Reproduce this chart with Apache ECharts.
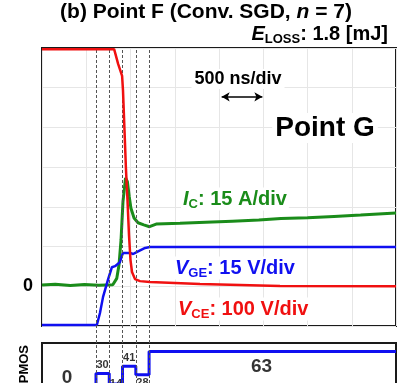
<!DOCTYPE html>
<html>
<head>
<meta charset="utf-8">
<script src="https://cdn.jsdelivr.net/npm/echarts@6/dist/echarts.min.js"></script>
<style>
html,body{margin:0;padding:0;background:#fff;}
#chart{width:401px;height:383px;}
</style>
</head>
<body>
<div id="chart"></div>
<script>
// ---- data (time in ns, 500 ns/div) ----
const IC_PER_DIV = 15;    // A/div
const VGE_PER_DIV = 15;   // V/div
const VCE_PER_DIV = 100;  // V/div

const icTime = [0, 150, 320, 480, 640, 800, 845, 870, 893, 915, 944, 965, 985, 1005, 1040, 1085, 1150, 1215, 1290, 1560, 1850, 2150, 2450, 2700, 3000, 3300, 3600, 3850, 4000];
const icAmps = [0.5, 0.8, 0.3, 0.7, 0.4, 0.6, 3.0, 8.0, 17.5, 32.0, 40.9, 39.5, 34.0, 29.5, 25.8, 24.0, 23.2, 22.5, 23.5, 23.8, 24.2, 24.6, 25.0, 25.6, 25.9, 26.4, 26.9, 27.4, 27.7];

const vgeTime = [0, 620, 655, 690, 745, 790, 825, 880, 915, 995, 1030, 1075, 1165, 1220, 4000];
const vgeVolts = [-14.6, -14.6, -10.1, -4.0, 2.4, 7.2, 7.6, 9.1, 12.6, 12.6, 12.2, 13.0, 14.5, 14.8, 14.8];

const vceTime = [0, 815, 860, 905, 915, 932, 949, 966, 983, 1000, 1017, 1051, 1107, 1220, 1785, 2690, 4000];
const vceVolts = [597, 597, 560, 530, 494, 394, 293, 217, 129, 66, 36, 18, 13, 11, 6, 1, 0];

// number of PMOS (step line)
const stepTimes = [0, 610, 760, 910, 1060, 1210, 4000];
const stepLevels = [0, 30, 14, 41, 28, 63, 63];
const switchTimes = [610, 760, 910, 1060, 1210];
const labelTimes = [283, 685, 835, 985, 1135, 2480];
const labelLevels = [0, 30, 14, 41, 28, 63];

// 500 ns scale arrow
const arrowSpan = [2030, 2490];
const arrowLevel = 4.77; // div

const FONT = '"Liberation Sans", Arial, sans-serif';

const chart = echarts.init(document.getElementById('chart'), null, {renderer: 'canvas'});

function pairs(t, v, scale) { return t.map((x, i) => [x, v[i] / scale]); }

const labelPos = ['top', 'top', 'inside', 'top', 'bottom', 'bottom'];
const labelBig = [true, false, false, false, false, true];

function richLabel(x, y, align, color, main, sub, rest, size) {
  return {
    type: 'text', x: x, y: y, z: 50,
    style: {
      text: '{i|' + main + '}{s|' + sub + '}{b|' + rest + '}',
      align: align, verticalAlign: 'middle',
      fill: color, backgroundColor: '#fff', padding: [0, 2],
      font: 'bold ' + size + 'px ' + FONT,
      rich: {
        i: {fontStyle: 'italic', fontWeight: 'bold', fontSize: size, fontFamily: FONT, fill: color},
        s: {fontWeight: 'bold', fontSize: Math.round(size * 0.65), fontFamily: FONT, fill: color, padding: [Math.round(size * 0.5), 0, 0, 0]},
        b: {fontWeight: 'bold', fontSize: size, fontFamily: FONT, fill: color}
      }
    }
  };
}

const option = {
  animation: false,
  backgroundColor: '#fff',
  grid: [
    {left: 42, right: 5, top: 48, height: 278, show: true, borderColor: '#1a1a1a', borderWidth: 2, backgroundColor: 'transparent', outerBoundsMode: 'none', containLabel: false},
    {left: 42, right: 5, top: 343, height: 57, show: true, borderColor: '#1a1a1a', borderWidth: 2, backgroundColor: 'transparent', outerBoundsMode: 'none', containLabel: false},
    {left: 42, right: 5, top: 48, height: 340, outerBoundsMode: 'none', containLabel: false}
  ],
  xAxis: [
    {gridIndex: 0, type: 'value', min: 0, max: 4000, interval: 500,
     axisLine: {show: false}, axisTick: {show: false}, axisLabel: {show: false},
     splitLine: {show: true, lineStyle: {color: '#e6e6e6', width: 1}}},
    {gridIndex: 1, type: 'value', min: 0, max: 4000, interval: 500,
     axisLine: {show: false}, axisTick: {show: false}, axisLabel: {show: false}, splitLine: {show: false}},
    {gridIndex: 2, type: 'value', min: 0, max: 4000, show: false}
  ],
  yAxis: [
    {gridIndex: 0, type: 'value', min: -1, max: 6, interval: 1,
     axisLine: {show: false}, axisTick: {show: false},
     axisLabel: {formatter: v => (v === 0 ? '0' : ''), color: '#000', fontSize: 18, fontWeight: 'bold', fontFamily: FONT, margin: 9},
     splitLine: {show: true, lineStyle: {color: '#e6e6e6', width: 1}}},
    {gridIndex: 1, type: 'value', min: -10, max: 76,
     axisLine: {show: false}, axisTick: {show: false}, axisLabel: {show: false}, splitLine: {show: false}},
    {gridIndex: 2, type: 'value', min: 0, max: 1, show: false}
  ],
  series: [
    {
      name: 'switch', type: 'line', xAxisIndex: 2, yAxisIndex: 2, z: 1,
      data: [[0, 0.5]], showSymbol: false, lineStyle: {opacity: 0}, silent: true,
      markLine: {silent: true, symbol: 'none', label: {show: false},
        lineStyle: {type: [3, 2], color: '#555', width: 1},
        data: switchTimes.map(t => ({xAxis: t}))}
    },
    {
      name: 'Ic', type: 'line', xAxisIndex: 0, yAxisIndex: 0, z: 3,
      data: pairs(icTime, icAmps, IC_PER_DIV), showSymbol: false,
      lineStyle: {color: '#1a8c1a', width: 3}
    },
    {
      name: 'Vge', type: 'line', xAxisIndex: 0, yAxisIndex: 0, z: 4,
      data: pairs(vgeTime, vgeVolts, VGE_PER_DIV), showSymbol: false,
      lineStyle: {color: '#1010f0', width: 2.5}
    },
    {
      name: 'Vce', type: 'line', xAxisIndex: 0, yAxisIndex: 0, z: 5,
      data: pairs(vceTime, vceVolts, VCE_PER_DIV), showSymbol: false,
      lineStyle: {color: '#f01010', width: 2.5}
    },
    {
      name: 'arrow', type: 'line', xAxisIndex: 0, yAxisIndex: 0, z: 6,
      data: [], silent: true,
      markLine: {silent: true, symbol: ['arrow', 'arrow'], symbolSize: [7, 8], label: {show: false},
        lineStyle: {type: 'solid', color: '#000', width: 1.5},
        data: [[{coord: [arrowSpan[0], arrowLevel]}, {coord: [arrowSpan[1], arrowLevel]}]]}
    },
    {
      name: 'PMOS', type: 'line', xAxisIndex: 1, yAxisIndex: 1, z: 3, step: 'end',
      data: stepTimes.map((t, i) => [t, stepLevels[i]]), showSymbol: false,
      lineStyle: {color: '#1010f0', width: 3}
    },
    {
      name: 'PMOS labels', type: 'scatter', xAxisIndex: 1, yAxisIndex: 1, z: 6, symbolSize: 0,
      data: labelTimes.map((t, i) => ({
        value: [t, labelLevels[i]],
        label: {show: true, position: labelPos[i], distance: labelBig[i] ? 6 : 3,
          fontSize: labelBig[i] ? 19 : 11, fontWeight: 'bold', fontFamily: FONT, color: '#000',
          formatter: p => String(p.value[1])}
      }))
    }
  ],
  graphic: [
    {type: 'text', x: 206, y: 12, z: 50, style: {
      text: '{b|(b) Point F (Conv. SGD, }{i|n}{b| = 7)}', align: 'center', verticalAlign: 'middle',
      font: 'bold 21px ' + FONT, fill: '#000',
      rich: {b: {fontWeight: 'bold', fontSize: 21, fontFamily: FONT, fill: '#000'},
             i: {fontWeight: 'bold', fontStyle: 'italic', fontSize: 21, fontFamily: FONT, fill: '#000'}}}},
    richLabel(390, 34, 'right', '#000', 'E', 'LOSS', ': 1.8 [mJ]', 20),
    {type: 'text', x: 238, y: 79, z: 50, style: {text: '500 ns/div', align: 'center', verticalAlign: 'middle',
      font: 'bold 18px ' + FONT, fill: '#000', backgroundColor: '#fff', padding: [1, 3]}},
    {type: 'text', x: 325, y: 128, z: 50, style: {text: 'Point G', align: 'center', verticalAlign: 'middle',
      font: 'bold 28px ' + FONT, fill: '#000', backgroundColor: '#fff', padding: [1, 3]}},
    richLabel(181, 199, 'left', '#1a8c1a', 'I', 'C', ': 15 A/div', 20),
    richLabel(173, 268, 'left', '#1010f0', 'V', 'GE', ': 15 V/div', 20),
    richLabel(176, 309, 'left', '#f01010', 'V', 'CE', ': 100 V/div', 20),
    {type: 'text', x: 24, y: 345, rotation: Math.PI / 2, z: 50, style: {text: 'PMOS', align: 'right', verticalAlign: 'middle',
      font: 'bold 13px ' + FONT, fill: '#000'}}
  ]
};
chart.setOption(option);
</script>
</body>
</html>
